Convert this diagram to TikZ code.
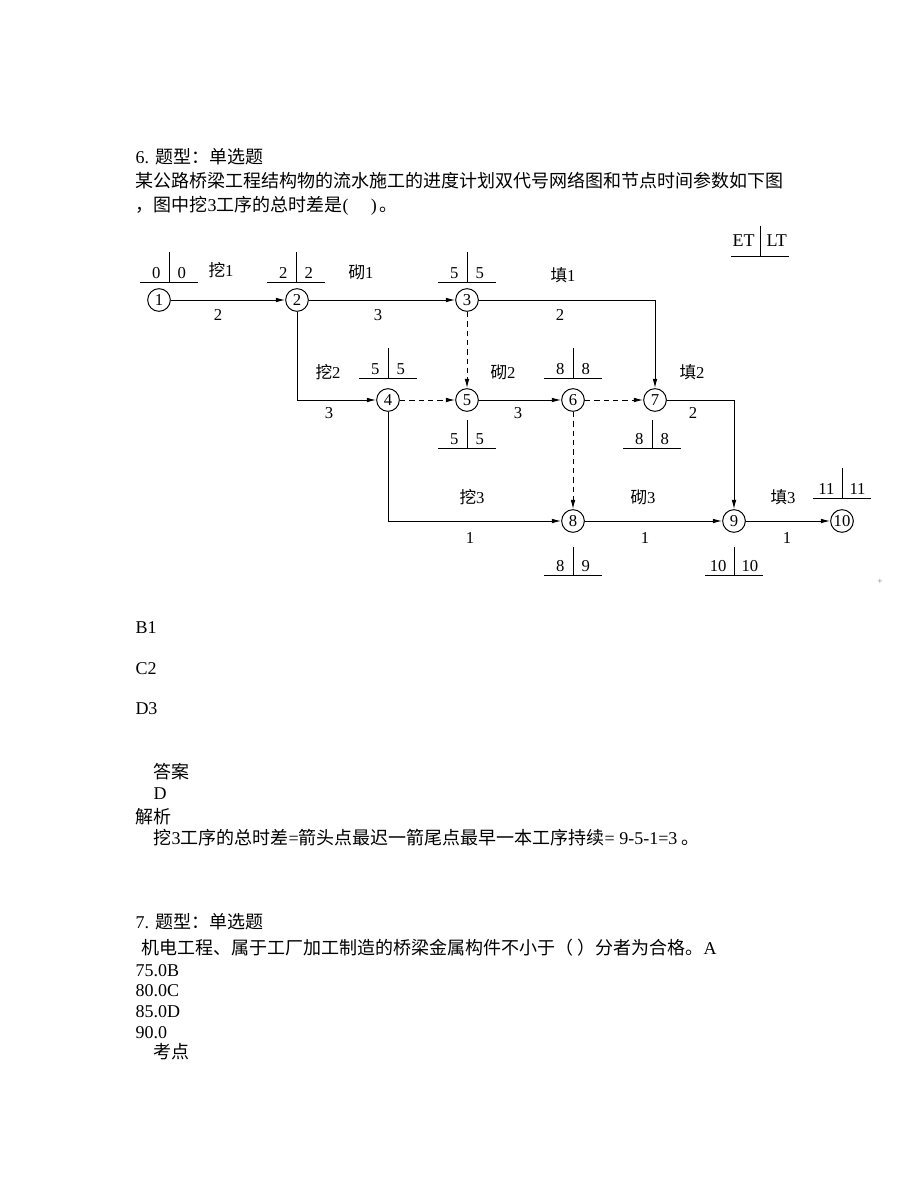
\documentclass[tikz,border=0pt]{standalone}
\usepackage{fontspec}
\setmainfont{Liberation Serif}
\newfontfamily\cjk{Noto Sans CJK SC}
\usepackage{tikz}
\usetikzlibrary{arrows.meta}

\begin{document}
\begin{tikzpicture}[x=0.75pt,y=-0.75pt,
  line width=0.75pt, >={Latex[length=7pt,width=3.5pt]},
  evt/.style={draw, circle, minimum size=17pt, inner sep=0pt, font=\fontsize{12.5}{13}\selectfont},
  lbl/.style={inner sep=0pt, font=\fontsize{12.5}{13}\selectfont},
  num/.style={inner sep=0pt, font=\fontsize{12.5}{13}\selectfont},
  tab/.style={line width=0.6pt},
  dummy/.style={dash pattern=on 4pt off 3pt},
  txt/.style={anchor=base west, inner sep=0pt, font=\fontsize{13.5}{16}\selectfont}]
\fill[white] (0,0) rectangle (920,1191);
\useasboundingbox (0,0) rectangle (920,1191);

\node[txt] (q6a) at (135,164) {6. {\cjk 题型：单选题}};
\node[txt] (q6b) at (135,188) {\cjk 某公路桥梁工程结构物的流水施工的进度计划双代号网络图和节点时间参数如下图};
\node[txt] (q6c) at (135,212) {{\cjk ，图中挖}3{\cjk 工序的总时差是}(~~~~~)\,{\cjk 。}};

\node[evt] (n1) at (159,300) {1};
\node[evt] (n2) at (297,300) {2};
\node[evt] (n3) at (467,300) {3};
\node[evt] (n4) at (388,400) {4};
\node[evt] (n5) at (467,400) {5};
\node[evt] (n6) at (573,400) {6};
\node[evt] (n7) at (655,400) {7};
\node[evt] (n8) at (573,521) {8};
\node[evt] (n9) at (734,521) {9};
\node[evt] (n10) at (842,521) {10};

\draw[->] (n1) -- (n2);
\draw[->] (n2) -- (n3);
\draw[->] (n3) -| (n7);
\draw[->] (n2) |- (n4);
\draw[->,dummy] (n3) -- (n5);
\draw[->,dummy] (n4) -- (n5);
\draw[->] (n5) -- (n6);
\draw[->,dummy] (n6) -- (n7);
\draw[->,dummy] (n6) -- (n8);
\draw[->] (n4) |- (n8);
\draw[->] (n7) -| (n9);
\draw[->] (n8) -- (n9);
\draw[->] (n9) -- (n10);

\node[lbl] (w1) at (221,270) {{\cjk 挖}1};
\node[lbl] (d12) at (218,315) {2};
\node[lbl] (q1) at (361,272) {{\cjk 砌}1};
\node[lbl] (d23) at (378,315) {3};
\node[lbl] (f1) at (563,275) {{\cjk 填}1};
\node[lbl] (d37) at (560,315) {2};
\node[lbl] (w2) at (328,372) {{\cjk 挖}2};
\node[lbl] (d24) at (329,413) {3};
\node[lbl] (q2) at (503,372) {{\cjk 砌}2};
\node[lbl] (d56) at (518,413) {3};
\node[lbl] (f2) at (692,372) {{\cjk 填}2};
\node[lbl] (d79) at (693,413) {2};
\node[lbl] (w3) at (472,497) {{\cjk 挖}3};
\node[lbl] (d48) at (470,538) {1};
\node[lbl] (q3) at (643,497) {{\cjk 砌}3};
\node[lbl] (d89) at (645,538) {1};
\node[lbl] (f3) at (783,497) {{\cjk 填}3};
\node[lbl] (d910) at (787,538) {1};

\draw[tab] (760,226) -- (760,256) (731,256) -- (789,256);
\node[num, anchor=base east, font=\fontsize{13.5}{14}\selectfont] (etl) at (755,247) {ET};
\node[num, anchor=base west, font=\fontsize{13.5}{14}\selectfont] (ltl) at (766,247) {LT};

\draw[tab] (169,252) -- (169,282) (140,282) -- (198,282);
\node[num, anchor=base east] (t1l) at (161,278) {0};
\node[num, anchor=base west] (t1r) at (177,278) {0};
\draw[tab] (296,252) -- (296,282) (267,282) -- (325,282);
\node[num, anchor=base east] (t2l) at (288,278) {2};
\node[num, anchor=base west] (t2r) at (304,278) {2};
\draw[tab] (467,252) -- (467,282) (438,282) -- (496,282);
\node[num, anchor=base east] (t3l) at (459,278) {5};
\node[num, anchor=base west] (t3r) at (475,278) {5};
\draw[tab] (388,348) -- (388,378) (359,378) -- (417,378);
\node[num, anchor=base east] (t4l) at (380,374) {5};
\node[num, anchor=base west] (t4r) at (396,374) {5};
\draw[tab] (573,348) -- (573,378) (544,378) -- (602,378);
\node[num, anchor=base east] (t6l) at (565,374) {8};
\node[num, anchor=base west] (t6r) at (581,374) {8};
\draw[tab] (467,420) -- (467,448) (438,448) -- (496,448);
\node[num, anchor=base east] (t5l) at (459,444) {5};
\node[num, anchor=base west] (t5r) at (475,444) {5};
\draw[tab] (652,420) -- (652,448) (623,448) -- (681,448);
\node[num, anchor=base east] (t7l) at (644,444) {8};
\node[num, anchor=base west] (t7r) at (660,444) {8};
\draw[tab] (573,547) -- (573,575) (544,575) -- (602,575);
\node[num, anchor=base east] (t8l) at (565,571) {8};
\node[num, anchor=base west] (t8r) at (581,571) {9};
\draw[tab] (734,547) -- (734,575) (705,575) -- (763,575);
\node[num, anchor=base east] (t9l) at (727,571) {10};
\node[num, anchor=base west] (t9r) at (741,571) {10};
\draw[tab] (842,468) -- (842,498) (813,498) -- (871,498);
\node[num, anchor=base east] (t10l) at (835,494) {11};
\node[num, anchor=base west] (t10r) at (849,494) {11};
\node[gray, inner sep=0pt, font=\scriptsize] (mark) at (880,582) {+};

\node[txt] (ob) at (135,633) {B1};
\node[txt] (oc) at (135,674) {C2};
\node[txt] (od) at (135,714) {D3};
\node[txt] (ans) at (153,778) {\cjk 答案};
\node[txt] (ansd) at (153,799) {D};
\node[txt] (jx) at (135,823) {\cjk 解析};
\node[txt] (jxt) at (153,844) {{\cjk 挖}3{\cjk 工序的总时差}={\cjk 箭头点最迟一箭尾点最早一本工序持续}= 9-5-1=3 {\cjk 。}};

\node[txt] (q7a) at (135,928) {7. {\cjk 题型：单选题}};
\node[txt] (q7b) at (141,954) {\cjk 机电工程、属于工厂加工制造的桥梁金属构件不小于（ ）分者为合格。{\rmfamily A}};
\node[txt] (o75) at (135,976) {75.0B};
\node[txt] (o80) at (135,996) {80.0C};
\node[txt] (o85) at (135,1017) {85.0D};
\node[txt] (o90) at (135,1038) {90.0};
\node[txt] (kd) at (153,1058) {\cjk 考点};
\end{tikzpicture}
\end{document}
